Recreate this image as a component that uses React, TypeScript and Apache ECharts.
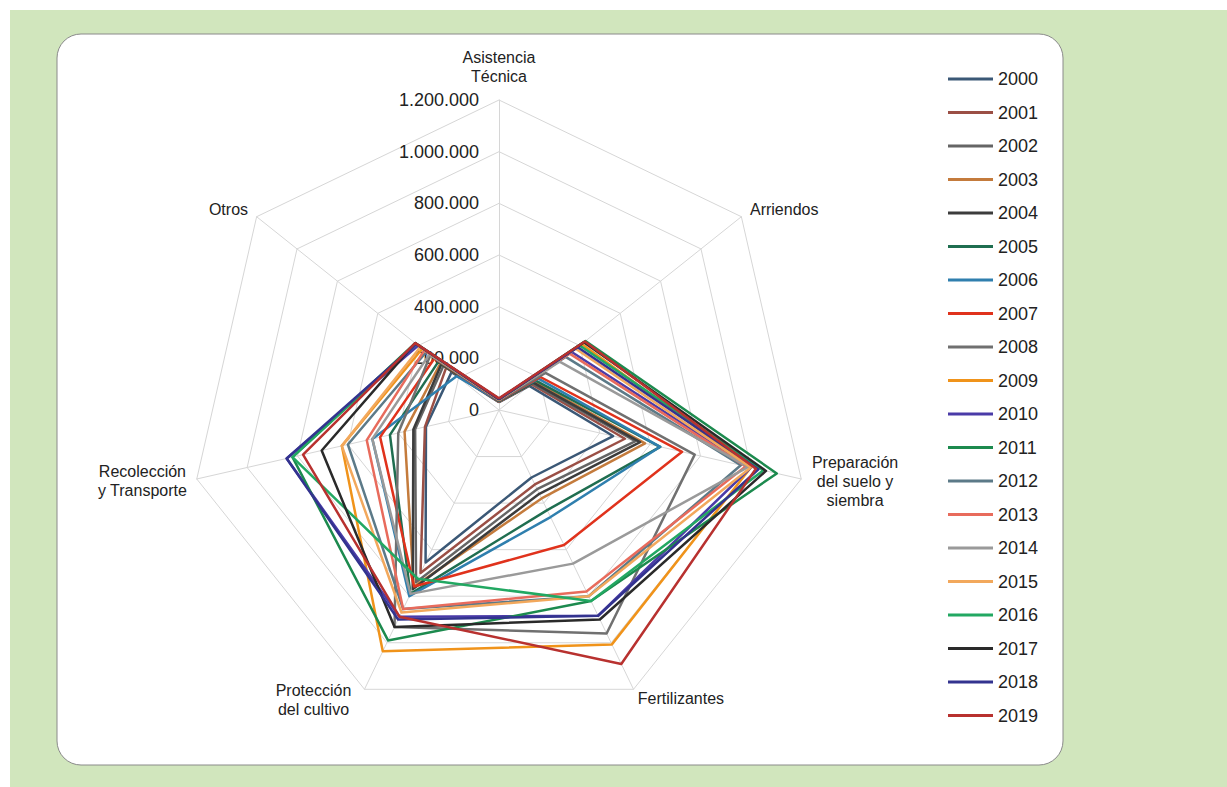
import React, { useEffect, useRef } from "react";
import * as echarts from "echarts";

const indicatorNames = [
  "Asistencia\nTécnica",
  "Arriendos",
  "Preparación\ndel suelo y\nsiembra",
  "Fertilizantes",
  "Protección\ndel cultivo",
  "Recolección\ny Transporte",
  "Otros",
];
const axisMax = 1200000;

const years = [
  "2000", "2001", "2002", "2003", "2004", "2005", "2006", "2007", "2008", "2009",
  "2010", "2011", "2012", "2013", "2014", "2015", "2016", "2017", "2018", "2019",
];

const v2000 = [30000, 150000, 453000, 290000, 655000, 290000, 235000];
const v2001 = [31000, 160000, 500000, 320000, 700000, 294000, 262000];
const v2002 = [32000, 165000, 542000, 340000, 740000, 333000, 275000];
const v2003 = [33000, 175000, 580000, 380000, 760000, 375000, 290000];
const v2004 = [34000, 170000, 560000, 360000, 770000, 340000, 285000];
const v2005 = [35000, 182000, 640000, 430000, 790000, 433000, 300000];
const v2006 = [36000, 195000, 640000, 460000, 800000, 503000, 210000];
const v2007 = [37000, 205000, 727000, 580000, 758000, 472000, 320000];
const v2008 = [38000, 230000, 777000, 960000, 932000, 400000, 340000];
const v2009 = [40000, 410000, 1000000, 1007000, 1037000, 624000, 380000];
const v2010 = [40000, 360000, 1000000, 884000, 888000, 843000, 400000];
const v2011 = [42000, 428000, 1103000, 821000, 990000, 820000, 415000];
const v2012 = [40000, 330000, 960000, 800000, 855000, 600000, 360000];
const v2013 = [40000, 350000, 980000, 780000, 855000, 525000, 370000];
const v2014 = [40000, 300000, 990000, 660000, 790000, 503000, 345000];
const v2015 = [40000, 380000, 1000000, 800000, 870000, 624000, 390000];
const v2016 = [42000, 400000, 1050000, 821000, 725000, 820000, 410000];
const v2017 = [42000, 420000, 1060000, 900000, 932000, 704000, 415000];
const v2018 = [42000, 390000, 1030000, 884000, 900000, 843000, 410000];
const v2019 = [45000, 425000, 1020000, 1091000, 888000, 778000, 415000];

const yearValues = [
  v2000, v2001, v2002, v2003, v2004, v2005, v2006, v2007, v2008, v2009,
  v2010, v2011, v2012, v2013, v2014, v2015, v2016, v2017, v2018, v2019,
];

const colors = [
  "#3b5876", "#9b4f45", "#656565", "#c47b3c", "#3c3c3c",
  "#1f6e50", "#2f7fae", "#e0321c", "#707070", "#f0931a",
  "#4a3ba8", "#1c8a4e", "#5c7a88", "#e86b5c", "#9a9a9a",
  "#f2a85c", "#22a862", "#2a2a2a", "#33338f", "#b8312f",
];

const FONT = "'Liberation Sans', Arial, Helvetica, sans-serif";

// ECharts radar runs counter-clockwise; the reference runs clockwise.
const order = [0, 6, 5, 4, 3, 2, 1];

const fmt = (v: number) =>
  String(Math.round(v)).replace(/\B(?=(\d{3})+(?!\d))/g, ".");

const richName = (s: string) =>
  s
    .split("\n")
    .map((l) => `{c|${l}}`)
    .join("\n");

const nameCfg = [
  { gap: 14, align: "center", padding: [0, 0, 0, 0] },
  { gap: 11, align: "left", padding: [0, 0, 0, 0] },
  { gap: 11, align: "left", padding: [0, 0, 0, 0] },
  { gap: 10, align: "left", padding: [0, 0, 0, 0] },
  { gap: 12, align: "right", padding: [0, 8, 0, 0] },
  { gap: 10, align: "right", padding: [0, 0, 0, 0] },
  { gap: 11, align: "right", padding: [0, 0, 0, 0] },
];

export default function App() {
  const ref = useRef<HTMLDivElement>(null);

  useEffect(() => {
    if (!ref.current) return;
    const chart = echarts.init(ref.current, undefined, { renderer: "svg" });

    const indicator = order.map((i) => ({
      name: richName(indicatorNames[i]),
      max: axisMax,
      min: 0,
      nameGap: nameCfg[i].gap,
      nameTextStyle: {
        align: nameCfg[i].align,
        padding: nameCfg[i].padding,
        rich: {
          c: {
            align: "center",
            fontSize: 16,
            lineHeight: 19,
            color: "#222",
            fontFamily: FONT,
          },
        },
      },
      axisLabel: { show: i === 0 },
    }));

    const series = years.map((y, k) => ({
      name: y,
      type: "radar",
      symbol: "none",
      z: 2,
      itemStyle: { color: colors[k] },
      lineStyle: { color: colors[k], width: 2.5 },
      data: [{ name: y, value: order.map((i) => yearValues[k][i]) }],
    }));

    chart.setOption({
      animation: false,
      backgroundColor: "#ffffff",
      graphic: [
        {
          type: "rect",
          z: -10,
          silent: true,
          shape: { x: 10, y: 10, width: 1217, height: 777 },
          style: { fill: "#d1e6bd" },
        },
        {
          type: "rect",
          z: -9,
          silent: true,
          shape: { x: 57, y: 34, width: 1006, height: 731, r: 24 },
          style: { fill: "#ffffff", stroke: "#8a8a8a", lineWidth: 1 },
        },
      ],
      legend: {
        orient: "vertical",
        left: 943,
        top: 64,
        icon: "rect",
        itemWidth: 45,
        itemHeight: 3,
        itemGap: 13.5,
        data: years,
        textStyle: {
          fontSize: 18,
          lineHeight: 20,
          color: "#222",
          fontFamily: FONT,
        },
      },
      radar: {
        center: [499, 410],
        radius: 310,
        startAngle: 90,
        shape: "polygon",
        splitNumber: 6,
        axisName: { color: "#222", fontSize: 16, fontFamily: FONT },
        splitLine: { lineStyle: { color: "#d6d6d6", width: 1 } },
        splitArea: { show: false },
        axisLine: { show: true, lineStyle: { color: "#d6d6d6", width: 1 } },
        axisTick: { show: false },
        axisLabel: {
          show: true,
          fontSize: 18,
          color: "#222",
          fontFamily: FONT,
          margin: 20,
          formatter: (v: number) => fmt(v),
        },
        indicator,
      },
      series,
    });

    return () => chart.dispose();
  }, []);

  return (
    <div
      ref={ref}
      style={{ position: "absolute", left: 0, top: 0, width: 1227, height: 787 }}
    />
  );
}
